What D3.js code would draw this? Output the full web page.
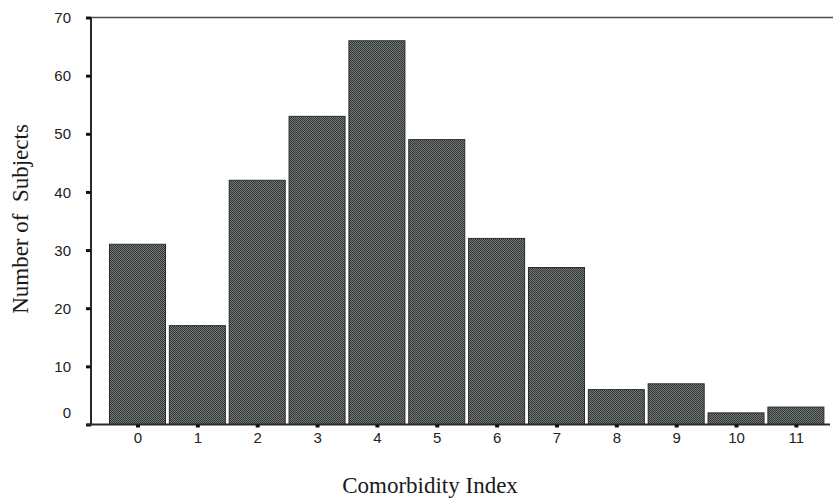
<!DOCTYPE html>
<html>
<head>
<meta charset="utf-8">
<script src="https://cdn.jsdelivr.net/npm/d3@7"></script>
<style>
  html, body { margin: 0; padding: 0; background: #fff; }
  svg { display: block; }
</style>
</head>
<body>
<svg id="chart" width="833" height="498"></svg>
<script>
// Comorbidity index distribution
const categories = ["0", "1", "2", "3", "4", "5", "6", "7", "8", "9", "10", "11"];
const subjects = [31, 17, 42, 53, 66, 49, 32, 27, 6, 7, 2, 3];
const yTicks = [0, 10, 20, 30, 40, 50, 60, 70];

const svg = d3.select("#chart");
const plotLeft = 91, plotTop = 17.5, plotBottom = 424.5, plotRight = 833;

const x = d3.scaleLinear().domain([0, categories.length - 1]).range([137.5, 795.9]);
const barW = 56;
const y = d3.scaleLinear().domain([0, 70]).range([plotBottom, plotTop]);

// hatched fill for the bars
const defs = svg.append("defs");
const pat = defs.append("pattern")
  .attr("id", "hatch").attr("patternUnits", "userSpaceOnUse")
  .attr("width", 2).attr("height", 2);
pat.append("rect").attr("width", 2).attr("height", 2).attr("fill", "#737975");
pat.append("rect").attr("width", 1).attr("height", 1).attr("fill", "#323634");
pat.append("rect").attr("x", 1).attr("y", 1).attr("width", 1).attr("height", 1).attr("fill", "#323634");

// top frame line
svg.append("line")
  .attr("x1", plotLeft).attr("x2", plotRight).attr("y1", plotTop).attr("y2", plotTop)
  .attr("stroke", "#4a4f4d").attr("stroke-width", 1.5);

// bars
svg.append("g").selectAll("rect")
  .data(subjects)
  .join("rect")
  .attr("x", (d, i) => x(i) - barW / 2)
  .attr("width", barW)
  .attr("y", d => y(d))
  .attr("height", d => y(0) - y(d))
  .attr("fill", "url(#hatch)")
  .attr("stroke", "#2a2c2b")
  .attr("stroke-width", 1);

const tickFont = "'Liberation Sans', Arial, sans-serif";

// y axis
const yAxis = svg.append("g")
  .attr("transform", `translate(${plotLeft},0)`)
  .call(d3.axisLeft(y).tickValues(yTicks).tickSize(5).tickPadding(15));
yAxis.select(".domain").attr("stroke", "#2a2a2a").attr("stroke-width", 2)
  .attr("d", `M0,${plotTop}V${plotBottom + 1}`);
yAxis.selectAll(".tick line").attr("stroke", "#111").attr("stroke-width", 3);
yAxis.selectAll(".tick text")
  .style("font-family", tickFont).style("font-size", "15px").attr("fill", "#222")
  .attr("dy", d => d === 0 ? "-0.45em" : "0.34em");

// x axis
const xAxis = svg.append("g")
  .attr("transform", `translate(0,${plotBottom})`)
  .call(d3.axisBottom(x).tickValues(d3.range(categories.length))
    .tickFormat(i => categories[i]).tickSize(3).tickPadding(5));
xAxis.select(".domain").attr("stroke", "#2a2a2a").attr("stroke-width", 2)
  .attr("d", `M${plotLeft - 4},0H830`);
xAxis.selectAll(".tick line").attr("stroke", "#111").attr("stroke-width", 4);
xAxis.selectAll(".tick text")
  .style("font-family", tickFont).style("font-size", "15px").attr("fill", "#222");

// axis titles
svg.append("text")
  .attr("transform", "translate(28,219) rotate(-90)")
  .attr("text-anchor", "middle")
  .style("font-family", "'Liberation Serif', 'Times New Roman', serif")
  .style("font-size", "23px").attr("fill", "#1a1a1a")
  .attr("xml:space", "preserve")
  .text("Number of  Subjects");

svg.append("text")
  .attr("x", 430).attr("y", 493)
  .attr("text-anchor", "middle")
  .style("font-family", "'Liberation Serif', 'Times New Roman', serif")
  .style("font-size", "23px").attr("fill", "#1a1a1a")
  .text("Comorbidity Index");
</script>
</body>
</html>
